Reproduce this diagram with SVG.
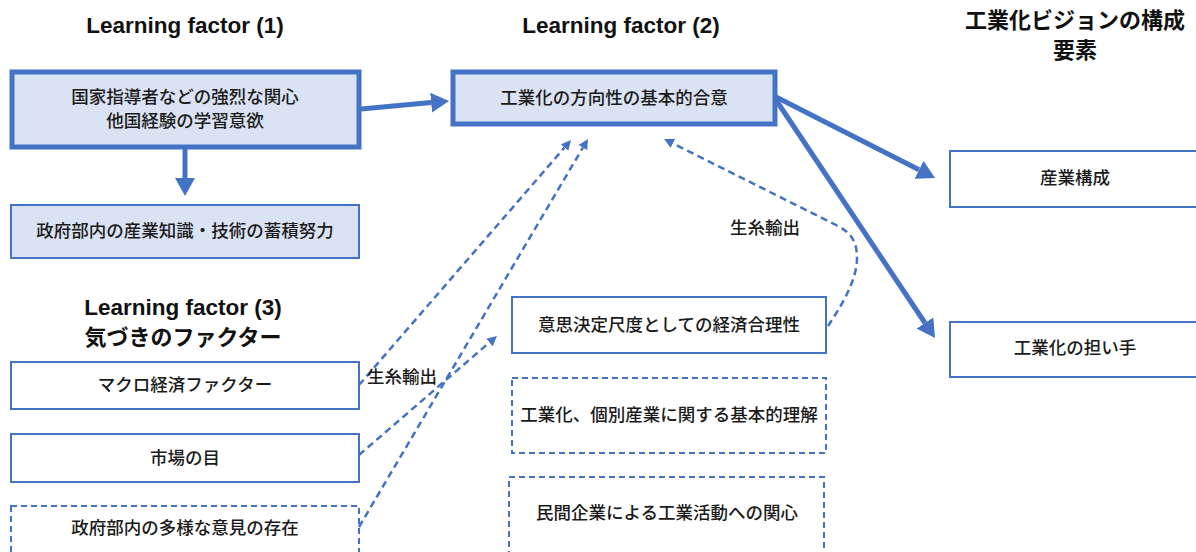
<svg xmlns="http://www.w3.org/2000/svg" width="1196" height="552" viewBox="0 0 1196 552">
<style>
.bg{fill:#ffffff}
.hl{fill:#DAE3F3;stroke:#4472C4}
.thick{stroke-width:5}
.thin{stroke-width:2}
.plain{fill:#ffffff;stroke:#4472C4;stroke-width:2}
.dash{fill:#ffffff;stroke:#4472C4;stroke-width:2;stroke-dasharray:6 4}
.t{font-family:"Noto Sans CJK JP","Noto Sans",sans-serif;font-size:17.5px;font-weight:500;fill:#1a1a1a;text-anchor:middle}
.h{font-family:"Liberation Sans",Arial,sans-serif;font-size:22.5px;font-weight:bold;fill:#111;text-anchor:middle}
.hj{font-family:"Noto Sans CJK JP",sans-serif;font-size:22px;font-weight:bold;fill:#111;text-anchor:middle}
.lbl{font-family:"Noto Sans CJK JP",sans-serif;font-size:17.5px;font-weight:500;fill:#1a1a1a}
.solid{fill:none;stroke:#4472C4;stroke-width:5}
.dl{fill:none;stroke:#4472C4;stroke-width:2.5;stroke-dasharray:7 4.5}
</style>
<defs>
<marker id="big" viewBox="0 0 18 20" markerWidth="18" markerHeight="20" refX="0" refY="10" orient="auto" markerUnits="userSpaceOnUse"><path d="M0,0 L18,10 L0,20 z" fill="#4472C4"/></marker>
<marker id="sm" viewBox="0 0 10 10" markerWidth="10" markerHeight="10" refX="0" refY="5" orient="auto" markerUnits="userSpaceOnUse"><path d="M0,0 L10,5 L0,10 z" fill="#4472C4"/></marker>
</defs>
<rect class="bg" x="0" y="0" width="1196" height="552"/>

<g id="titles">
<text class="h" x="185" y="33">Learning factor (1)</text>
<text class="h" x="621" y="33">Learning factor (2)</text>
<text class="hj" x="1075" y="28">工業化ビジョンの構成</text>
<text class="hj" x="1075" y="58">要素</text>
<text class="h" x="183" y="315">Learning factor (3)</text>
<text class="hj" x="183" y="345">気づきのファクター</text>
</g>

<g id="n1"><rect class="hl thick" x="12" y="72" width="347" height="75"/>
<text class="t" x="185" y="103">国家指導者などの強烈な関心</text>
<text class="t" x="185" y="127">他国経験の学習意欲</text></g>

<g id="n2"><rect class="hl thin" x="11" y="205" width="348" height="53"/>
<text class="t" x="185" y="237">政府部内の産業知識・技術の蓄積努力</text></g>

<g id="n3"><rect class="hl thick" x="453" y="72" width="322" height="52"/>
<text class="t" x="614" y="104">工業化の方向性の基本的合意</text></g>

<g id="n4"><rect class="plain" x="950" y="151" width="260" height="56"/>
<text class="t" x="1075" y="184">産業構成</text></g>

<g id="n5"><rect class="plain" x="950" y="322" width="260" height="55"/>
<text class="t" x="1075" y="354">工業化の担い手</text></g>

<g id="n6"><rect class="plain" x="11" y="362" width="348" height="47"/>
<text class="t" x="185" y="391">マクロ経済ファクター</text></g>

<g id="n7"><rect class="plain" x="11" y="434" width="348" height="48"/>
<text class="t" x="185" y="464">市場の目</text></g>

<g id="n8"><rect class="dash" x="11" y="506" width="348" height="50"/>
<text class="t" x="185" y="534">政府部内の多様な意見の存在</text></g>

<g id="n9"><rect class="plain" x="512" y="297" width="314" height="56"/>
<text class="t" x="669" y="331">意思決定尺度としての経済合理性</text></g>

<g id="n10"><rect class="dash" x="512" y="378" width="314" height="75"/>
<text class="t" x="669" y="421">工業化、個別産業に関する基本的理解</text></g>

<g id="n11"><rect class="dash" x="509" y="477" width="315" height="80"/>
<text class="t" x="667" y="519">民間企業による工業活動への関心</text></g>

<g id="connectors">
<line class="solid" x1="361" y1="109" x2="431.1" y2="102.6" marker-end="url(#big)"/>
<line class="solid" x1="185" y1="149" x2="185" y2="178" marker-end="url(#big)"/>
<line class="solid" x1="776" y1="97" x2="919" y2="169.8" marker-end="url(#big)"/>
<line class="solid" x1="776" y1="100" x2="925" y2="323" marker-end="url(#big)"/>
<line class="dl" x1="359" y1="385" x2="564.5" y2="147.6" marker-end="url(#sm)"/>
<line class="dl" x1="359" y1="527" x2="582.9" y2="147.6" marker-end="url(#sm)"/>
<line class="dl" x1="359" y1="455" x2="489.4" y2="342.5" marker-end="url(#sm)"/>
<path class="dl" d="M828,326 C842,305 857,280 857,258 C857,240 850,232 836,225 L673,143.5" marker-end="url(#sm)"/>
<text class="lbl" x="730" y="234">生糸輸出</text>
<text class="lbl" x="367" y="383">生糸輸出</text>
</g>
</svg>
